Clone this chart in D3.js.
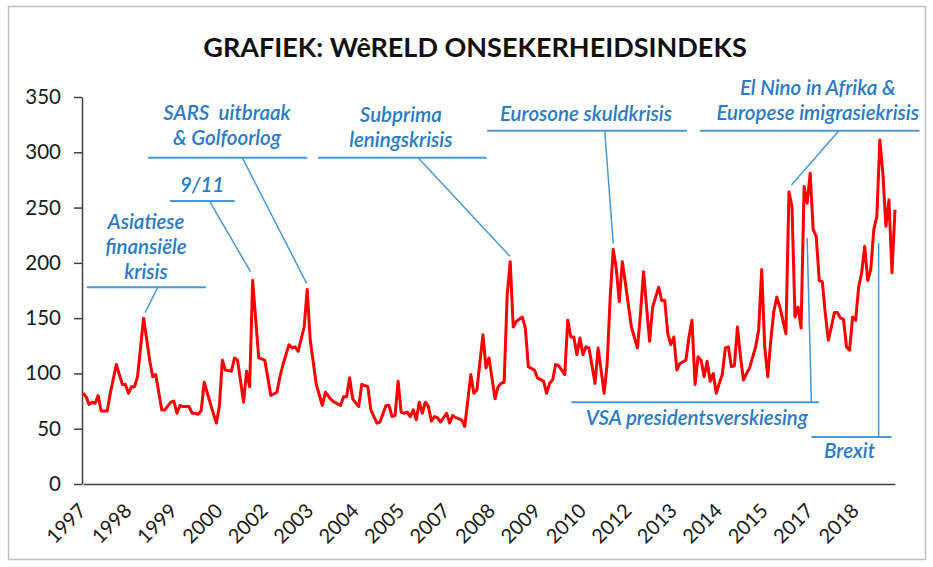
<!DOCTYPE html>
<html>
<head>
<meta charset="utf-8">
<script src="https://cdn.jsdelivr.net/npm/d3@7"></script>
<style>
  body { margin: 0; background: #fff; }
  svg { display: block; font-family: Lato, 'Noto Sans', sans-serif; }
</style>
</head>
<body>
<div id="chart"></div>
<script>
// World uncertainty index, monthly readings
const months = [
  '1997-01', '1997-02', '1997-03', '1997-04', '1997-05', '1997-06', '1997-07', '1997-09', '1997-10', '1997-12',
  '1998-02', '1998-03', '1998-04', '1998-05', '1998-06', '1998-07', '1998-09', '1998-11', '1998-12',
  '1999-01', '1999-03', '1999-04', '1999-06', '1999-07', '1999-08', '1999-09', '1999-10', '1999-12',
  '2000-01', '2000-02', '2000-03', '2000-04', '2000-05', '2000-07', '2000-09', '2000-10', '2000-11', '2000-12',
  '2001-02', '2001-03', '2001-04', '2001-06', '2001-07', '2001-08', '2001-09', '2001-11',
  '2002-01', '2002-03', '2002-05', '2002-06', '2002-07', '2002-09', '2002-10', '2002-11', '2002-12',
  '2003-02', '2003-03', '2003-04', '2003-06', '2003-08', '2003-09', '2003-11', '2003-12',
  '2004-02', '2004-03', '2004-04', '2004-05', '2004-06', '2004-08', '2004-09', '2004-11', '2004-12',
  '2005-02', '2005-03', '2005-05', '2005-06', '2005-07', '2005-08', '2005-09', '2005-10', '2005-11', '2005-12',
  '2006-01', '2006-02', '2006-03', '2006-04', '2006-05', '2006-06', '2006-07', '2006-08', '2006-09', '2006-10', '2006-11',
  '2007-01', '2007-02', '2007-03', '2007-04', '2007-06', '2007-07', '2007-09', '2007-10', '2007-11',
  '2008-01', '2008-02', '2008-03', '2008-05', '2008-06', '2008-07', '2008-08', '2008-09', '2008-10', '2008-11', '2008-12',
  '2009-02', '2009-03', '2009-04', '2009-06', '2009-07', '2009-09', '2009-10', '2009-11', '2009-12',
  '2010-01', '2010-02', '2010-04', '2010-05', '2010-06', '2010-07', '2010-08', '2010-09', '2010-10', '2010-11', '2010-12',
  '2011-02', '2011-03', '2011-04', '2011-05', '2011-06', '2011-07', '2011-08', '2011-09', '2011-10', '2011-11', '2011-12',
  '2012-02', '2012-04', '2012-05', '2012-06', '2012-08', '2012-09', '2012-11', '2012-12',
  '2013-01', '2013-02', '2013-03', '2013-04', '2013-05', '2013-06', '2013-08', '2013-09', '2013-10', '2013-11', '2013-12',
  '2014-01', '2014-02', '2014-03', '2014-04', '2014-05', '2014-06', '2014-07', '2014-08', '2014-09', '2014-10', '2014-11', '2014-12',
  '2015-01', '2015-02', '2015-03', '2015-04', '2015-05', '2015-07', '2015-08', '2015-09', '2015-10', '2015-11', '2015-12',
  '2016-01', '2016-02', '2016-03', '2016-05', '2016-06', '2016-07', '2016-08', '2016-09', '2016-10', '2016-11', '2016-12',
  '2017-01', '2017-02', '2017-03', '2017-04', '2017-05', '2017-06', '2017-07', '2017-08', '2017-09', '2017-10', '2017-11', '2017-12',
  '2018-01', '2018-02', '2018-03', '2018-04', '2018-05', '2018-06', '2018-07', '2018-08', '2018-09', '2018-10', '2018-11', '2018-12',
  '2019-01', '2019-02', '2019-03', '2019-04', '2019-05',
];
const wui = [
  82, 79, 72, 74, 73, 80, 66, 66, 82, 108,
  90, 90, 82, 88, 88, 97, 150, 112, 97,
  99, 67, 67, 74, 75, 64, 71, 70, 70,
  64, 64, 63, 66, 92, 73, 55, 70, 112, 103,
  102, 114, 112, 74, 102, 88, 184, 114,
  112, 80, 83, 97, 108, 126, 123, 124, 120,
  142, 176, 130, 90, 71, 83, 76, 74,
  71, 79, 79, 96, 77, 70, 90, 88, 67,
  55, 56, 71, 71, 61, 62, 93, 65, 64, 65,
  61, 67, 58, 74, 64, 74, 70, 57, 61, 60, 56,
  64, 55, 62, 60, 58, 52, 99, 82, 85,
  135, 105, 114, 77, 88, 91, 92, 171, 201, 142, 147,
  151, 141, 106, 103, 96, 93, 82, 91, 94,
  108, 107, 99, 148, 133, 133, 117, 132, 117, 124, 123,
  91, 123, 103, 82, 109, 169, 212, 195, 165, 201, 182,
  142, 123, 154, 192, 129, 160, 178, 166,
  166, 136, 126, 133, 103, 109, 112, 133, 148, 90, 115,
  112, 97, 111, 93, 100, 82, 91, 99, 123, 124, 106, 107,
  142, 115, 94, 100, 105, 124, 139, 194, 124, 97, 130,
  156, 169, 160, 136, 264, 251, 151, 160, 141, 269, 254,
  281, 230, 224, 184, 183, 154, 130, 142, 155, 155, 150, 149,
  124, 121, 151, 148, 178, 191, 215, 184, 194, 230, 242, 311,
  281, 233, 257, 191, 248,
];

const firstMonth = '1997-01';
const lastMonth = '2019-05';
const tickMonths = [
  '1997-01', '1998-04', '1999-07', '2000-10', '2002-01', '2003-04', '2004-07', '2005-10', '2007-01',
  '2008-04', '2009-07', '2010-10', '2012-01', '2013-04', '2014-07', '2015-10', '2017-01', '2018-04',
];
const yTicks = [0, 50, 100, 150, 200, 250, 300, 350];

const title = 'GRAFIEK: WêRELD ONSEKERHEIDSINDEKS';

// annotations, placed in month-index / index-value units
const notes = [
  { lines: ['Asiatiese', 'finansiële', 'krisis'], tx: 20.8, ty: 185, bar: [1.3, 40.6, 178], lead: [[24.7, 178], [20.5, 155]] },
  { lines: ['9/11'], tx: 39.3, ty: 264, bar: [28.7, 50.1, 256], lead: [[41.7, 256], [55.3, 192]] },
  { lines: ['SARS  uitbraak', '& Golfoorlog'], tx: 47.5, ty: 306.5, bar: [21.5, 74, 295], lead: [[52.6, 295], [73.8, 181.5]] },
  { lines: ['Subprima', 'leningskrisis'], tx: 104.9, ty: 305, bar: [77.6, 133.2, 295], lead: [[110.6, 295], [140.9, 206]] },
  { lines: ['Eurosone skuldkrisis'], tx: 166, ty: 328.5, bar: [133.4, 199.4, 319.5], lead: [[172.2, 319.5], [175, 217.5]] },
  { lines: ['El Nino in Afrika &', 'Europese imigrasiekrisis'], tx: 242.5, ty: 329.5, bar: [203.6, 276.1, 319.5], lead: [[249.5, 319.5], [233.8, 270.5]] },
  { lines: ['VSA presidentsverskiesing'], tx: 202.6, ty: 53.5, bar: [161.2, 242.9, 74], lead: [[240.4, 74], [239, 222.5]] },
  { lines: ['Brexit'], tx: 253, ty: 23.5, bar: [240.4, 266.8, 42.5], lead: [[262.6, 42.5], [262.6, 218]] },
];

const monthIndex = (s) => {
  const [yy, mm] = s.split('-').map(Number);
  const [y0, m0] = firstMonth.split('-').map(Number);
  return (yy - y0) * 12 + (mm - m0);
};

const data = months.map((m, i) => ({ i: monthIndex(m), v: wui[i] }));

const width = 933;
const height = 567;
const margin = { t: 97, r: 38, b: 83, l: 83 };

const svg = d3
  .select('#chart')
  .append('svg')
  .attr('width', width)
  .attr('height', height);

// chart frame
svg
  .append('rect')
  .attr('x', 8.5)
  .attr('y', 6.5)
  .attr('width', 917)
  .attr('height', 553)
  .attr('fill', 'none')
  .attr('stroke', '#bfbfbf')
  .attr('stroke-width', 1.5);

svg
  .append('text')
  .attr('x', 475)
  .attr('y', 57)
  .attr('text-anchor', 'middle')
  .attr('font-size', 27)
  .attr('font-weight', 700)
  .attr('fill', '#111')
  .text(title);

const x = d3
  .scaleLinear()
  .domain([0, monthIndex(lastMonth)])
  .range([margin.l, width - margin.r]);

const y = d3
  .scaleLinear()
  .domain([0, 350])
  .range([height - margin.b, margin.t]);

// Y axis
const yAxis = svg
  .append('g')
  .attr('transform', `translate(${margin.l - 1}, 0)`)
  .call(d3.axisLeft(y).tickValues(yTicks).tickSize(8).tickSizeOuter(0).tickPadding(13));
yAxis.selectAll('path, line').attr('stroke', '#404040').attr('stroke-width', 1.5);
yAxis.selectAll('text').attr('font-size', 20.5).attr('font-family', 'Lato').attr('fill', '#1a1a1a');

// X axis, labels every 15 months
const xAxis = svg
  .append('g')
  .attr('transform', `translate(0, ${height - margin.b})`)
  .call(
    d3
      .axisBottom(x)
      .tickValues(tickMonths.map(monthIndex))
      .tickFormat((d) => tickMonths.find((m) => monthIndex(m) === d).slice(0, 4))
      .tickSize(0)
      .tickSizeOuter(0),
  );
xAxis.select('.domain').attr('stroke', '#404040').attr('stroke-width', 1.5);
xAxis
  .selectAll('text')
  .attr('font-size', 20)
  .attr('font-family', 'Lato')
  .attr('fill', '#1a1a1a')
  .attr('text-anchor', 'end')
  .attr('y', 0)
  .attr('dy', 0)
  .attr('transform', 'translate(4, 28) rotate(-45)');

// annotations
const blue = '#4a97d6';
const noteG = svg.append('g');
notes.forEach((n) => {
  noteG
    .append('line')
    .attr('x1', x(n.bar[0]))
    .attr('x2', x(n.bar[1]))
    .attr('y1', y(n.bar[2]))
    .attr('y2', y(n.bar[2]))
    .attr('stroke', blue)
    .attr('stroke-width', 2);
  noteG
    .append('line')
    .attr('x1', x(n.lead[0][0]))
    .attr('y1', y(n.lead[0][1]))
    .attr('x2', x(n.lead[1][0]))
    .attr('y2', y(n.lead[1][1]))
    .attr('stroke', blue)
    .attr('stroke-width', 1.5);
  const k = n.lines.length;
  n.lines.forEach((t, j) => {
    noteG
      .append('text')
      .attr('x', x(n.tx))
      .attr('y', y(n.ty) - (k - 1 - j) * 25)
      .attr('text-anchor', 'middle')
      .attr('font-size', 20.5)
      .attr('font-weight', 600)
      .attr('font-style', 'italic')
      .attr('fill', '#2a7ac6')
      .style('white-space', 'pre')
      .text(t);
  });
});

// the index line
svg
  .append('path')
  .datum(data)
  .attr('fill', 'none')
  .attr('stroke', '#ff0000')
  .attr('stroke-width', 3)
  .attr('stroke-linejoin', 'round')
  .attr('d', d3.line().x((d) => x(d.i)).y((d) => y(d.v)));
</script>
</body>
</html>
